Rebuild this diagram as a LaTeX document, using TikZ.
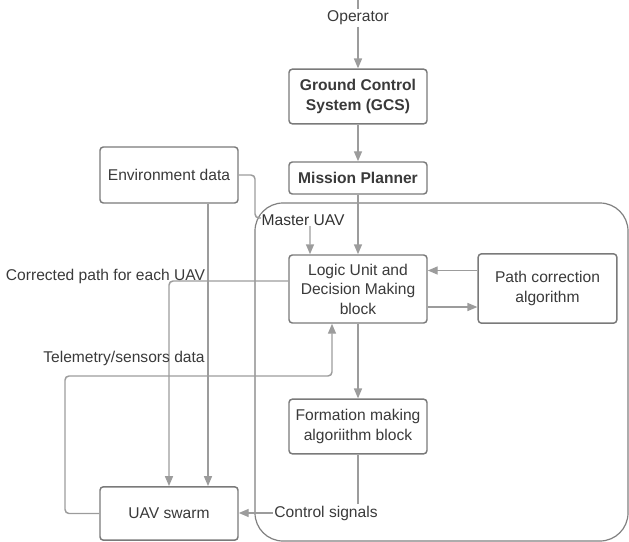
\documentclass[tikz,border=0pt]{standalone}
\usepackage{fontspec}
\setmainfont{Liberation Sans}
\usepackage{xcolor}
\usetikzlibrary{positioning,calc,arrows.meta}

\definecolor{linegray}{HTML}{9C9C9C}
\definecolor{boxgray}{HTML}{7A7A7A}
\definecolor{framegray}{HTML}{808080}
\definecolor{textgray}{HTML}{3A3A3A}

\tikzset{
    txt/.style={text=textgray, font=\fontsize{11.7}{14.6}\selectfont, inner sep=1pt},
    block/.style={txt, draw=boxgray, fill=white, line width=1.1pt, rounded corners=2.5pt,
        minimum width=103.5pt, align=center, inner sep=2pt},
    bblock/.style={block, font=\fontsize{11.7}{14.6}\selectfont\bfseries},
    line/.style={draw=linegray, line width=1.1pt, rounded corners=3pt},
    flow/.style={line, -{Triangle[length=7.5pt,width=6pt]}}
}

\begin{document}
\begin{tikzpicture}[x=0.75pt,y=-0.75pt]
    \useasboundingbox (0,0) rectangle (629,542);

    % Master UAV frame
    \draw[draw=framegray, line width=0.9pt, rounded corners=21pt] (255,203) rectangle (628,541);

    % Blocks
    \node[bblock, minimum height=41pt] (gcs) at (358,96.5) {Ground Control\\System (GCS)};
    \node[bblock, minimum height=24pt] (mission) at (358,178) {Mission Planner};
    \node[block, minimum height=42pt] (env) at (169,175) {Environment data};
    \node[block, minimum height=51pt] (logic) at (358,289) {Logic Unit and\\Decision Making\\block};
    \node[block, minimum height=52pt, minimum width=104pt] (path) at (547.5,288.5) {Path correction\\algorithm};
    \node[block, minimum height=41pt] (formation) at (358,426.5) {Formation making\\algoriithm block};
    \node[block, minimum height=40pt] (swarm) at (169,513.5) {UAV swarm};

    % Operator input
    \coordinate (optop) at (358,0);
    \node[txt, fill=white] (op) at (358,18) {Operator};
    \draw[line] (optop) -- (op);
    \draw[flow] (op) -- (gcs);

    % Main chain
    \draw[flow] (gcs) -- (mission);
    \draw[flow] (mission) -- (logic);
    \draw[flow] (logic) -- (formation);
    \draw[flow] ([yshift=13.5pt]path.west) -- ([yshift=13.5pt]path.west -| logic.east);
    \draw[flow] ([yshift=-13.5pt]logic.east) -- ([yshift=-13.5pt]logic.east -| path.west);

    % Environment data
    \draw[flow] (env.east) -| (255,218) -| ([xshift=-36pt]logic.north);
    \node[txt, text=black!80, fill=white, inner sep=0.3pt, anchor=west] (master) at (261,220) {Master UAV};
    \draw[flow] ([xshift=29.25pt]env.south) -- ([xshift=29.25pt]swarm.north);

    % Paths to the swarm and telemetry back
    \draw[flow] ([yshift=6pt]logic.west) -| (swarm.north);
    \node[txt] (corr) at (105.5,276) {Corrected path for each UAV};
    \draw[flow] (swarm.west) -| (65,376) -| ([xshift=-19.5pt]logic.south);
    \node[txt] (telem) at (124,358) {Telemetry/sensors data};

    % Control signals
    \node[txt, fill=white] (ctrl) at (326,513) {Control signals};
    \draw[line] (formation) -- (formation.south |- ctrl.north);
    \draw[flow] (ctrl.west) -- (ctrl.west -| swarm.east);
\end{tikzpicture}
\end{document}
